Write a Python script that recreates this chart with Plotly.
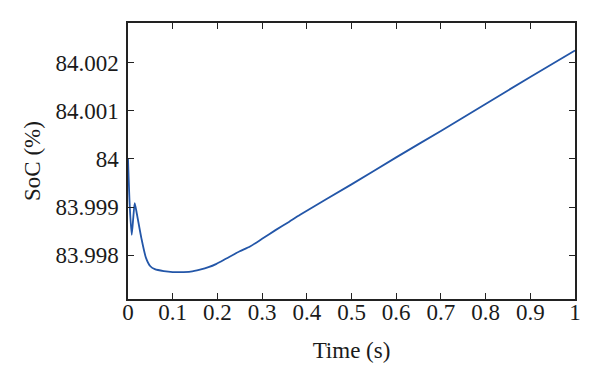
import plotly.graph_objects as go

time_s = [0.0, 0.004, 0.0083, 0.012, 0.015, 0.02, 0.03, 0.04, 0.05, 0.06, 0.08, 0.1, 0.116, 0.14, 0.161,
          0.18, 0.198, 0.22, 0.25, 0.273, 0.3, 0.33, 0.36, 0.385, 0.5, 0.6, 0.7, 0.8, 0.9, 1.0]
soc = [84.0000, 83.99900, 83.99842, 83.99880, 83.99908, 83.99885, 83.99835, 83.99795, 83.99777, 83.99771,
       83.99767, 83.99765, 83.99765, 83.99766, 83.99770, 83.99775, 83.99782, 83.99793, 83.99808,
       83.99818, 83.99834, 83.99852, 83.99869, 83.99884, 83.99947, 84.00003, 84.00058, 84.00114,
       84.00170, 84.00225]

x_ticks = [0, 0.1, 0.2, 0.3, 0.4, 0.5, 0.6, 0.7, 0.8, 0.9, 1]
x_tick_labels = ["0", "0.1", "0.2", "0.3", "0.4", "0.5", "0.6", "0.7", "0.8", "0.9", "1"]
y_ticks = [83.998, 83.999, 84.0, 84.001, 84.002]
y_tick_labels = ["83.998", "83.999", "84", "84.001", "84.002"]

fig = go.Figure()
fig.add_trace(go.Scatter(x=time_s, y=soc, mode="lines",
                         line=dict(color="#2356a8", width=1.8, shape="spline", smoothing=0.6),
                         showlegend=False))

font = dict(family="Liberation Serif, Times New Roman, serif", size=23, color="#1a1a1a")
axis_common = dict(showgrid=False, zeroline=False, showline=True, linecolor="#222", linewidth=1.5,
                   mirror="ticks", ticks="inside", ticklen=6, tickwidth=1.3, tickcolor="#222",
                   tickfont=font, automargin=False)

fig.update_layout(
    width=592, height=378,
    margin=dict(l=120, r=25, t=15, b=87),
    paper_bgcolor="white", plot_bgcolor="white",
    font=font,
    xaxis=dict(range=[0, 1], tickvals=x_ticks, ticktext=x_tick_labels, ticklabelstandoff=-8,
               title=dict(text="Time (s)", font=font, standoff=18), **axis_common),
    yaxis=dict(range=[83.99709, 84.00282], tickvals=y_ticks, ticktext=y_tick_labels, ticklabelstandoff=3,
               title=dict(text="SoC (%)", font=font, standoff=8), **axis_common),
)

fig.write_html("out.html")
